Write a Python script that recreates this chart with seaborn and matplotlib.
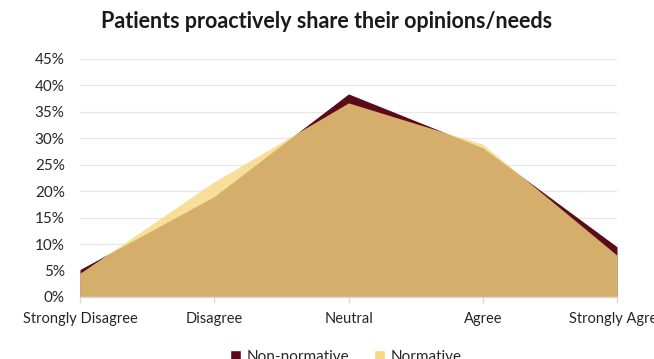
import matplotlib
matplotlib.use("Agg")
import matplotlib.pyplot as plt
import numpy as np
import pandas as pd
import seaborn as sns
from matplotlib.patches import Patch

categories = ["Strongly Disagree", "Disagree", "Neutral", "Agree", "Strongly Agree"]
non_normative = [5.2, 19.0, 38.4, 28.2, 9.5]
normative = [4.5, 21.8, 36.7, 28.9, 7.9]
y_ticks = [0, 5, 10, 15, 20, 25, 30, 35, 40, 45]

maroon = "#5C0A1A"
yellow = "#F5D881"

sns.set_theme(style="white")
plt.rcParams["font.family"] = ["Lato", "DejaVu Sans"]

df = pd.DataFrame({
    "category": categories * 2,
    "pos": list(range(len(categories))) * 2,
    "share": non_normative + normative,
    "group": ["Non-normative"] * len(categories) + ["Normative"] * len(categories),
})

fig = plt.figure(figsize=(6.54, 3.59), dpi=100)
ax = fig.add_axes([80 / 654, 1 - 297 / 359, (617 - 80) / 654, (297 - 59) / 359])

x = np.arange(len(categories))
ax.fill_between(x, 0, non_normative, color=maroon, linewidth=0, zorder=2)
ax.fill_between(x, 0, normative, color=yellow, alpha=0.8, linewidth=0, zorder=3)
sns.lineplot(data=df[df.group == "Non-normative"], x="pos", y="share", ax=ax,
             color=maroon, linewidth=0, legend=False)

ax.set_xlim(0, len(categories) - 1)
ax.set_ylim(0, 45)
ax.set_yticks(y_ticks)
ax.set_yticklabels([f"{v}%" for v in y_ticks])
ax.set_xticks(x)
ax.set_xticklabels(categories)
ax.set_xlabel("")
ax.set_ylabel("")

ax.grid(axis="y", color="#E8E8E8", linewidth=1, zorder=0)
ax.grid(axis="x", visible=False)
ax.set_axisbelow(True)
for side in ["left", "right", "top"]:
    ax.spines[side].set_visible(False)
ax.spines["bottom"].set_color("#D9D9D9")
ax.spines["bottom"].set_linewidth(1)
ax.spines["bottom"].set_zorder(4)

ax.tick_params(axis="y", length=0, pad=11, labelsize=11, labelcolor="#262626")
ax.tick_params(axis="x", length=4, width=1, color="#D9D9D9", direction="out",
               pad=7, labelsize=10.5, labelcolor="#262626", bottom=True)

fig.text(0.5, 1 - 21 / 359, "Patients proactively share their opinions/needs",
         ha="center", va="center", fontsize=15.5, fontweight="bold", color="#1A1A1A")

handles = [Patch(facecolor=maroon, label="Non-normative"),
           Patch(facecolor=yellow, label="Normative")]
fig.legend(handles=handles, loc="center", bbox_to_anchor=(346 / 654, 1 - 357 / 359),
           ncol=2, frameon=False, fontsize=11, handlelength=0.7, handleheight=0.7,
           handletextpad=0.4, columnspacing=1.6)

fig.savefig("out.png", dpi=100)
